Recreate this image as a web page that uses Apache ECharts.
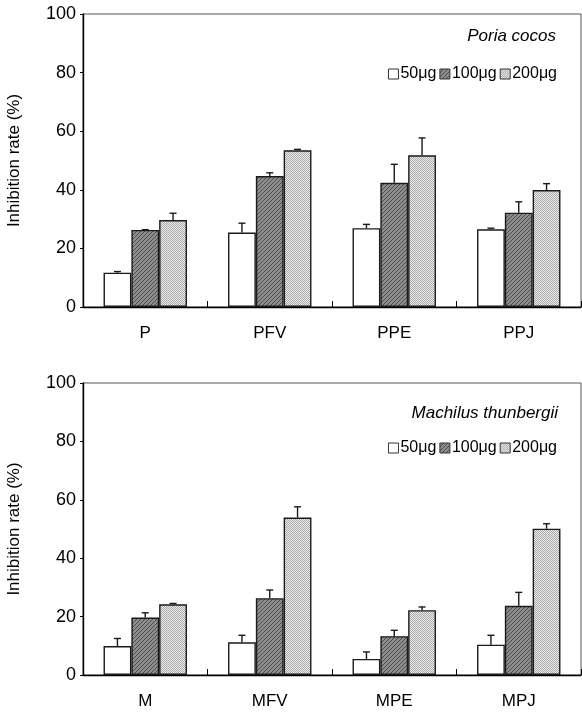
<!DOCTYPE html>
<html>
<head>
<meta charset="utf-8">
<script src="https://cdn.jsdelivr.net/npm/echarts@6/dist/echarts.min.js"></script>
<style>
  html, body { margin: 0; padding: 0; background: #fff; }
  #chart { width: 582px; height: 713px; }
</style>
</head>
<body>
<div id="chart"></div>
<script>
// Category labels for the two panels
const categoriesTop = ['P', 'PFV', 'PPE', 'PPJ'];
const categoriesBottom = ['M', 'MFV', 'MPE', 'MPJ'];
const doseNames = ['50μg', '100μg', '200μg'];
const yTicks = [0, 20, 40, 60, 80, 100];

// Poria cocos: mean inhibition rate (%) and upper error
const top50 = [11.7, 25.4, 26.9, 26.5];
const top100 = [26.3, 44.7, 42.4, 32.2];
const top200 = [29.7, 53.5, 51.8, 39.9];
const topErr50 = [0.4, 3.2, 1.3, 0.4];
const topErr100 = [0.1, 1.1, 6.3, 3.7];
const topErr200 = [2.3, 0.3, 5.9, 2.2];

// Machilus thunbergii: mean inhibition rate (%) and upper error
const bot50 = [9.9, 11.2, 5.5, 10.4];
const bot100 = [19.7, 26.3, 13.3, 23.7];
const bot200 = [24.2, 53.9, 22.2, 50.1];
const botErr50 = [2.6, 2.4, 2.4, 3.2];
const botErr100 = [1.6, 2.8, 2.0, 4.6];
const botErr200 = [0.3, 3.7, 1.1, 1.7];

// Fill patterns: plain white, dark diagonal hatch, light stipple
function hatchPattern() {
  const c = document.createElement('canvas');
  c.width = 4; c.height = 4;
  const g = c.getContext('2d');
  g.fillStyle = '#8e8e8e';
  g.fillRect(0, 0, 4, 4);
  g.fillStyle = '#4a4a4a';
  for (let i = 0; i < 4; i++) g.fillRect(i, 3 - i, 1, 1);
  return c;
}
function stipplePattern() {
  const c = document.createElement('canvas');
  c.width = 2; c.height = 2;
  const g = c.getContext('2d');
  g.fillStyle = '#eeeeee';
  g.fillRect(0, 0, 2, 2);
  g.fillStyle = '#a8a8a8';
  g.fillRect(0, 0, 1, 1);
  g.fillRect(1, 1, 1, 1);
  return c;
}
const fills = [
  '#ffffff',
  { image: hatchPattern(), repeat: 'repeat' },
  { image: stipplePattern(), repeat: 'repeat' }
];

const FONT = "'Liberation Sans', Arial, sans-serif";
const GAP = '33%';

function barSeries(name, data, idx, gridIdx) {
  return {
    type: 'bar',
    name: name,
    xAxisIndex: gridIdx,
    yAxisIndex: gridIdx,
    data: data,
    barGap: '0%',
    barCategoryGap: GAP,
    itemStyle: { color: fills[idx], borderColor: '#1a1a1a', borderWidth: 1.4 },
    emphasis: { disabled: true },
    z: 2
  };
}

// Upward error whiskers positioned over each bar of the group
function errorSeries(means, errs, idx, gridIdx) {
  return {
    type: 'custom',
    xAxisIndex: gridIdx,
    yAxisIndex: gridIdx,
    data: means.map((m, i) => [i, m, m + errs[i]]),
    renderItem: function (params, api) {
      const band = api.size([1, 0])[0];
      const barW = band * (1 - 0.33) / 3;
      const off = (idx - 1) * barW;
      const p0 = api.coord([api.value(0), api.value(1)]);
      const p1 = api.coord([api.value(0), api.value(2)]);
      const x = p0[0] + off;
      const cap = 3.5;
      const st = { stroke: '#1a1a1a', lineWidth: 1.4 };
      return {
        type: 'group',
        children: [
          { type: 'line', shape: { x1: x, y1: p0[1], x2: x, y2: p1[1] }, style: st },
          { type: 'line', shape: { x1: x - cap, y1: p1[1], x2: x + cap, y2: p1[1] }, style: st }
        ]
      };
    },
    z: 3,
    silent: true
  };
}

function xAxis(cats, gridIdx) {
  return {
    type: 'category',
    gridIndex: gridIdx,
    data: cats,
    axisLine: { lineStyle: { color: '#000', width: 1.4 } },
    axisTick: { show: true, inside: true, length: 6, lineStyle: { color: '#000' } },
    axisLabel: { color: '#000', fontSize: 17, fontFamily: FONT, margin: 18 },
    splitLine: { show: false }
  };
}

function yAxis(gridIdx) {
  return {
    type: 'value',
    gridIndex: gridIdx,
    min: 0, max: 100, interval: 20,
    name: 'Inhibition rate (%)',
    nameLocation: 'middle',
    nameGap: 60,
    nameTextStyle: { color: '#000', fontSize: 17, fontFamily: FONT },
    axisLine: { show: true, lineStyle: { color: '#000', width: 1.4 } },
    axisTick: { show: true, length: 3, lineStyle: { color: '#000' } },
    axisLabel: { color: '#000', fontSize: 18, fontFamily: FONT, margin: 7,
      formatter: v => (yTicks.indexOf(v) >= 0 ? String(v) : '') },
    splitLine: { show: false }
  };
}

function legend(top) {
  return {
    data: doseNames,
    right: 20,
    top: top,
    itemWidth: 10,
    itemHeight: 10,
    itemGap: 3,
    icon: 'rect',
    selectedMode: false,
    textStyle: { color: '#000', fontSize: 16, fontFamily: FONT, padding: [0, 0, 0, -3] },
    itemStyle: { borderColor: '#333', borderWidth: 1 }
  };
}

const chart = echarts.init(document.getElementById('chart'), null, { renderer: 'canvas' });

const gridBase = { left: 83, width: 498, show: true, borderColor: '#555', borderWidth: 1,
  backgroundColor: 'transparent', containLabel: false, outerBoundsMode: 'none' };

chart.setOption({
  backgroundColor: '#ffffff',
  animation: false,
  grid: [
    Object.assign({}, gridBase, { top: 14, height: 293 }),
    Object.assign({}, gridBase, { top: 383, height: 292 })
  ],
  legend: [legend(61), legend(435)],
  graphic: [
    { type: 'text', right: 26, top: 28,
      style: { text: 'Poria cocos', font: 'italic 17px ' + FONT, fill: '#000' } },
    { type: 'text', right: 24, top: 405,
      style: { text: 'Machilus thunbergii', font: 'italic 17px ' + FONT, fill: '#000' } }
  ],
  xAxis: [xAxis(categoriesTop, 0), xAxis(categoriesBottom, 1)],
  yAxis: [yAxis(0), yAxis(1)],
  series: [
    barSeries(doseNames[0], top50, 0, 0),
    barSeries(doseNames[1], top100, 1, 0),
    barSeries(doseNames[2], top200, 2, 0),
    errorSeries(top50, topErr50, 0, 0),
    errorSeries(top100, topErr100, 1, 0),
    errorSeries(top200, topErr200, 2, 0),
    barSeries(doseNames[0], bot50, 0, 1),
    barSeries(doseNames[1], bot100, 1, 1),
    barSeries(doseNames[2], bot200, 2, 1),
    errorSeries(bot50, botErr50, 0, 1),
    errorSeries(bot100, botErr100, 1, 1),
    errorSeries(bot200, botErr200, 2, 1)
  ]
});
</script>
</body>
</html>
